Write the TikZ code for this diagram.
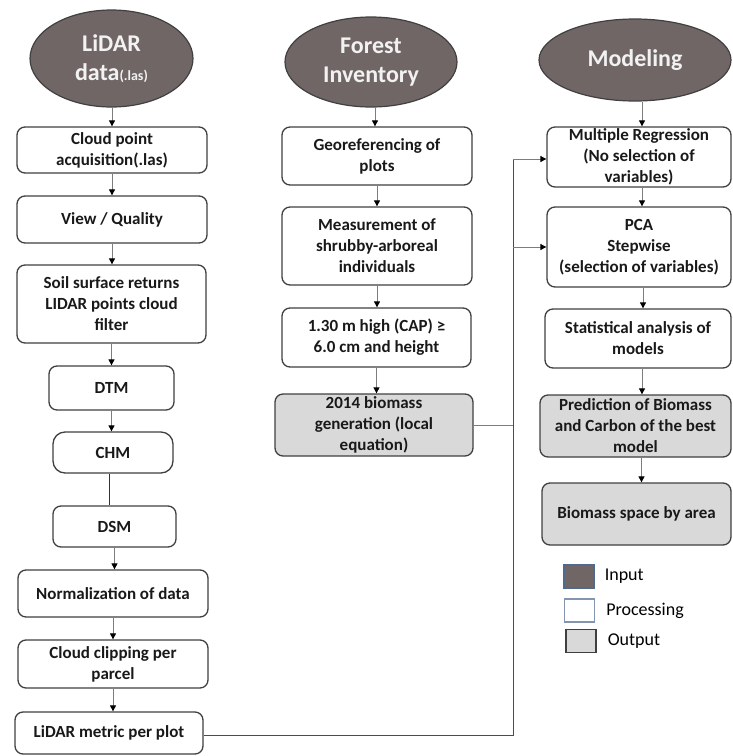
\documentclass[tikz,border=0pt]{standalone}
\usepackage{fontspec}
\setmainfont{Carlito}
\usetikzlibrary{shapes.geometric,arrows.meta}
\definecolor{inputc}{RGB}{112,102,102}
\definecolor{outc}{RGB}{217,217,217}
\definecolor{edgec}{RGB}{64,64,64}
\definecolor{linec}{RGB}{125,125,125}
\definecolor{legedge}{RGB}{80,105,140}
\begin{document}
\begin{tikzpicture}[x=1pt,y=-1pt,
  ellip/.style={ellipse, draw=edgec, line width=1.2pt, fill=inputc, text=white!95!black,
    font=\fontsize{24}{29}\selectfont\bfseries, align=center, inner sep=0pt},
  proc/.style={rectangle, rounded corners=8pt, draw=edgec, line width=1.3pt, fill=white,
    font=\fontsize{17}{21}\selectfont\bfseries, align=center, inner sep=0pt, text=black!90},
  outp/.style={proc, fill=outc},
  arr/.style={draw=linec, line width=0.9pt, -{Triangle[length=6pt,width=6pt,color=black]}},
  link/.style={draw=black!70, line width=0.9pt},
  legbox/.style={rectangle, line width=1.2pt, minimum width=30pt, minimum height=23pt, inner sep=0pt},
  legtxt/.style={anchor=west, inner sep=0pt, font=\fontsize{18}{21}\selectfont}
]
\useasboundingbox (0,0) rectangle (732,756);

% ---- left column
\node[ellip, minimum width=163pt, minimum height=97pt] (lid) at (111.5,58.5)
  {LiDAR\\data{\fontsize{14}{14}\selectfont(.las)}};
\node[proc, minimum width=190pt, minimum height=46pt] (cp) at (112,150) {Cloud point\\acquisition(.las)};
\node[proc, minimum width=190pt, minimum height=47pt] (vq) at (112,219.5) {View / Quality};
\node[proc, minimum width=189pt, minimum height=78pt] (soil) at (111.5,304) {Soil surface returns\\LIDAR points cloud\\filter};
\node[proc, minimum width=125pt, minimum height=44pt] (dtm) at (111.5,388) {DTM};
\node[proc, rounded corners=12pt, minimum width=120pt, minimum height=41pt] (chm) at (113,452.5) {CHM};
\node[proc, minimum width=123pt, minimum height=41pt] (dsm) at (114.5,526.5) {DSM};
\node[proc, minimum width=190pt, minimum height=47pt] (norm) at (113,593.5) {Normalization of data};
\node[proc, minimum width=190pt, minimum height=48pt] (clip) at (113,664) {Cloud clipping per\\parcel};
\node[proc, minimum width=188pt, minimum height=42pt] (met) at (109,733) {LiDAR metric per plot};

% ---- middle column
\node[ellip, minimum width=172pt, minimum height=90pt] (fi) at (371,62) {Forest\\Inventory};
\node[proc, minimum width=190pt, minimum height=58pt] (geo) at (377,156) {Georeferencing of\\plots};
\node[proc, minimum width=190pt, minimum height=78pt] (meas) at (377,246) {Measurement of\\shrubby-arboreal\\individuals};
\node[proc, minimum width=189pt, minimum height=59pt] (cap) at (376.5,337.5) {1.30 m high (CAP) ≥\\6.0 cm and height};
\node[outp, minimum width=198pt, minimum height=62pt] (bio) at (374,425) {2014 biomass\\generation (local\\equation)};

% ---- right column
\node[ellip, minimum width=192pt, minimum height=82pt] (mod) at (635,60) {Modeling};
\node[proc, minimum width=184pt, minimum height=60pt] (mr) at (639,157) {Multiple Regression\\(No selection of\\variables)};
\node[proc, minimum width=184pt, minimum height=80pt] (pca) at (639,247) {PCA\\Stepwise\\(selection of variables)};
\node[proc, minimum width=186pt, minimum height=59pt] (sta) at (638,338.5) {Statistical analysis of\\models};
\node[outp, minimum width=191pt, minimum height=62pt] (pred) at (635.5,426) {Prediction of Biomass\\and Carbon of the best\\model};
\node[outp, minimum width=189pt, minimum height=62pt] (bsa) at (636.5,514) {Biomass space by area};

% ---- legend
\node[legbox, draw=legedge, fill=inputc] (lin) at (579,576.5) {};
\node[legtxt] (lint) at ([xshift=10pt]lin.east) {Input};
\node[legbox, draw=legedge!70, fill=white] (lpr) at (579.5,610.5) {};
\node[legtxt] (lprt) at ([xshift=11pt]lpr.east) {Processing};
\node[legbox, draw=edgec, fill=outc] (lou) at (581,641) {};
\node[legtxt] (lout) at ([xshift=11pt]lou.east) {Output};

% ---- arrows left
\draw[arr] (lid.south -| cp) -- (cp.north);
\draw[arr] (cp.south) -- (cp.south |- vq.north);
\draw[arr] (vq.south) -- (vq.south |- soil.north);
\draw[arr] (soil.south) -- (soil.south |- dtm.north);
\draw[arr] (dtm.south) -- (dtm.south |- chm.north);
\draw[link, draw=black!80] ([xshift=-4pt]chm.south) -- ([xshift=-4pt]chm.south |- dsm.north);
\draw[arr] (dsm.south) -- (dsm.south |- norm.north);
\draw[arr] (norm.south) -- (norm.south |- clip.north);
\draw[arr] (clip.south) -- (clip.south |- met.north);

% ---- arrows middle
\draw[arr] ([xshift=4pt]fi.south) -- ([xshift=4pt]fi.south |- geo.north);
\draw[arr] (geo.south) -- (geo.south |- meas.north);
\draw[arr] (meas.south) -- (meas.south |- cap.north);
\draw[arr] (cap.south) -- (cap.south |- bio.north);

% ---- arrows right
\draw[arr] ([xshift=7pt]mod.south) -- ([xshift=7pt]mod.south |- mr.north);
\draw[arr] ([xshift=3pt]mr.south) -- ([xshift=3pt]mr.south |- pca.north);
\draw[arr] ([xshift=4pt]pca.south) -- ([xshift=4pt]pca.south |- sta.north);
\draw[arr] ([xshift=4pt]sta.south) -- ([xshift=4pt]sta.south |- pred.north);
\draw[arr] ([xshift=6pt]pred.south) -- ([xshift=6pt]pred.south |- bsa.north);

% ---- long connector
\coordinate (cb) at (513,735);
\coordinate (ct) at (513,159);
\coordinate (cm) at (513,247);
\draw[link] (met.east |- cb) -- (cb) -- (ct);
\draw[arr] (ct) -- (ct -| mr.west);
\draw[arr] (cm) -- (cm -| pca.west);
\draw[link, draw=linec] (bio.east) -- (bio.east -| cb);
\end{tikzpicture}
\end{document}
